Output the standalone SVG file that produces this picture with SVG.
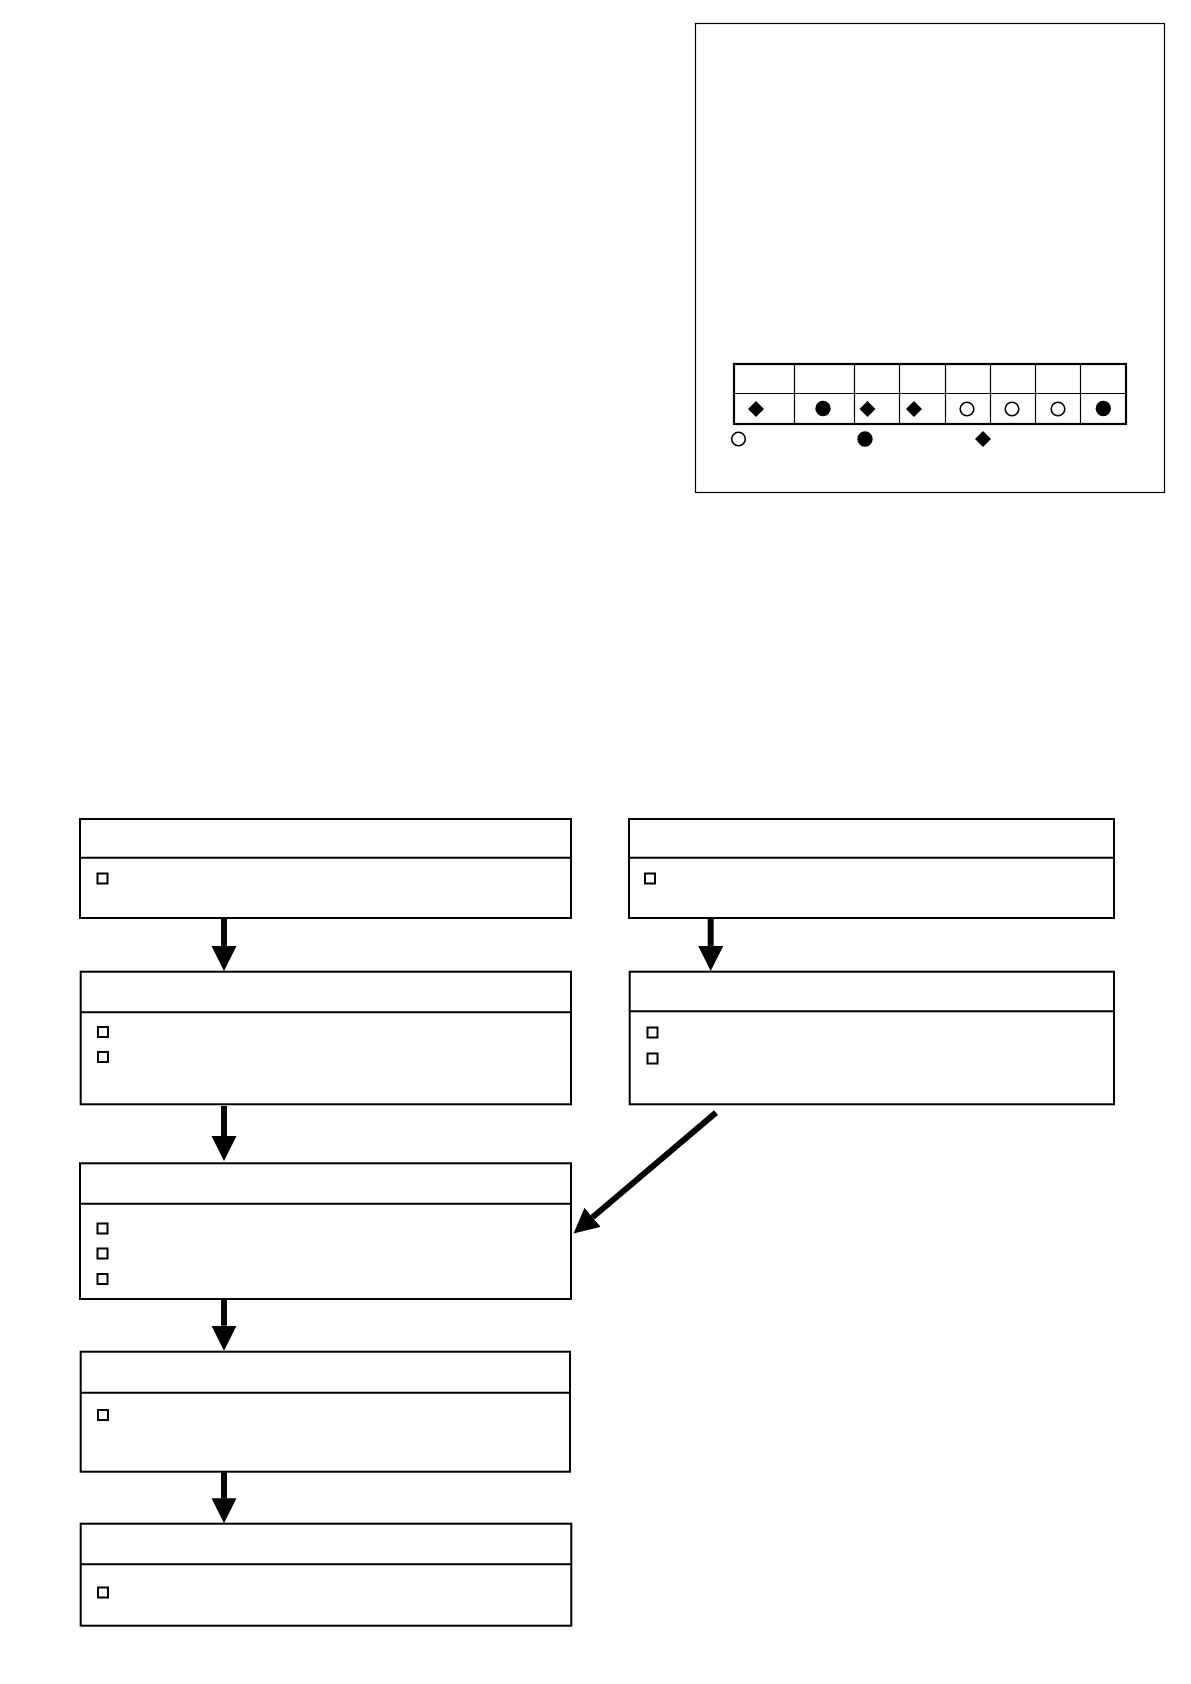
<svg xmlns="http://www.w3.org/2000/svg" width="1191" height="1684" viewBox="0 0 1191 1684">
<style>
.box{fill:#fff;stroke:#000;stroke-width:2}
.div{stroke:#000;stroke-width:2}
.chk{fill:#fff;stroke:#000;stroke-width:2}
.conn{stroke:#000;stroke-width:6;fill:none}
.thin{stroke:#000;stroke-width:1.2;fill:none}
.fill{fill:#000}
.open{fill:#fff;stroke:#000;stroke-width:1.6}
</style>
<defs>
<marker id="ah" markerUnits="userSpaceOnUse" markerWidth="26" markerHeight="26" refX="0" refY="12.5" orient="auto" viewBox="0 0 26 26">
<path d="M0,0 L25,12.5 L0,25 z" fill="#000"/>
</marker>
<path id="dia" d="M0,-8 L8,0 L0,8 L-8,0 z" fill="#000"/>
</defs>
<rect width="1191" height="1684" fill="#fff"/>

<g id="panel">
<rect x="695.5" y="23.5" width="469" height="469" fill="#fff" stroke="#000" stroke-width="1.2"/>
<g id="table">
<rect x="734" y="364" width="392" height="60" fill="#fff" stroke="#000" stroke-width="2.2"/>
<line class="thin" x1="734" y1="393.5" x2="1126" y2="393.5"/>
<line class="thin" x1="794.5" y1="364" x2="794.5" y2="424"/>
<line class="thin" x1="854.5" y1="364" x2="854.5" y2="424"/>
<line class="thin" x1="899.5" y1="364" x2="899.5" y2="424"/>
<line class="thin" x1="945.5" y1="364" x2="945.5" y2="424"/>
<line class="thin" x1="990.5" y1="364" x2="990.5" y2="424"/>
<line class="thin" x1="1035.5" y1="364" x2="1035.5" y2="424"/>
<line class="thin" x1="1080.5" y1="364" x2="1080.5" y2="424"/>
<use href="#dia" x="756" y="409"/>
<circle class="fill" cx="823" cy="408.5" r="7.7"/>
<use href="#dia" x="867.5" y="409"/>
<use href="#dia" x="914" y="409"/>
<circle class="open" cx="967" cy="409" r="6.8"/>
<circle class="open" cx="1012" cy="409" r="6.8"/>
<circle class="open" cx="1058" cy="409" r="6.8"/>
<circle class="fill" cx="1103.3" cy="408.5" r="7.7"/>
</g>
<g id="legend">
<circle class="open" cx="738.5" cy="439" r="6.8"/>
<circle class="fill" cx="865" cy="439" r="7.7"/>
<use href="#dia" x="983" y="439"/>
</g>
</g>

<g id="node1">
<rect class="box" x="80" y="819" width="491" height="99"/>
<line class="div" x1="80" y1="857.7" x2="571" y2="857.7"/>
<rect class="chk" x="97.5" y="873.5" width="10" height="10"/>
</g>
<g id="nodeR1">
<rect class="box" x="629" y="819" width="485" height="99"/>
<line class="div" x1="629" y1="857.7" x2="1114" y2="857.7"/>
<rect class="chk" x="645" y="873.5" width="10" height="10"/>
</g>
<g id="node2">
<rect class="box" x="80.7" y="971.7" width="490.3" height="132.6" stroke-width="1.6"/>
<line class="div" x1="80.7" y1="1012.3" x2="571" y2="1012.3" stroke-width="1.6"/>
<rect class="chk" x="98" y="1027" width="10" height="10"/>
<rect class="chk" x="98" y="1052" width="10" height="10"/>
</g>
<g id="nodeR2">
<rect class="box" x="629.7" y="971.7" width="484.3" height="132.6" stroke-width="1.6"/>
<line class="div" x1="629.7" y1="1011.3" x2="1114" y2="1011.3" stroke-width="1.6"/>
<rect class="chk" x="647.5" y="1027.5" width="10" height="10"/>
<rect class="chk" x="647.5" y="1053.5" width="10" height="10"/>
</g>
<g id="node3">
<rect class="box" x="80" y="1163.3" width="491" height="135.7" stroke-width="1.6"/>
<line class="div" x1="80" y1="1203.7" x2="571" y2="1203.7"/>
<rect class="chk" x="97.5" y="1223.5" width="10" height="10"/>
<rect class="chk" x="97.5" y="1248.5" width="10" height="10"/>
<rect class="chk" x="97.5" y="1274" width="10" height="10"/>
</g>
<g id="node4">
<rect class="box" x="80.7" y="1351.7" width="489.3" height="120"/>
<line class="div" x1="80.7" y1="1392.7" x2="570" y2="1392.7"/>
<rect class="chk" x="98" y="1410" width="10" height="10"/>
</g>
<g id="node5">
<rect class="box" x="80.7" y="1523.7" width="490.6" height="102"/>
<line class="div" x1="80.7" y1="1564.3" x2="571.3" y2="1564.3" stroke-width="1.6"/>
<rect class="chk" x="98" y="1587.5" width="10" height="10"/>
</g>

<g id="connectors">
<line class="conn" x1="224" y1="919" x2="224" y2="946" marker-end="url(#ah)"/>
<line class="conn" x1="710.7" y1="918.5" x2="710.7" y2="946" marker-end="url(#ah)"/>
<line class="conn" x1="224" y1="1106" x2="224" y2="1136" marker-end="url(#ah)"/>
<line class="conn" x1="224" y1="1299" x2="224" y2="1325.7" marker-end="url(#ah)"/>
<line class="conn" x1="224" y1="1472" x2="224" y2="1498.3" marker-end="url(#ah)"/>
<line class="conn" x1="716" y1="1112.6" x2="592.6" y2="1217.3" marker-end="url(#ah)"/>
</g>
</svg>
